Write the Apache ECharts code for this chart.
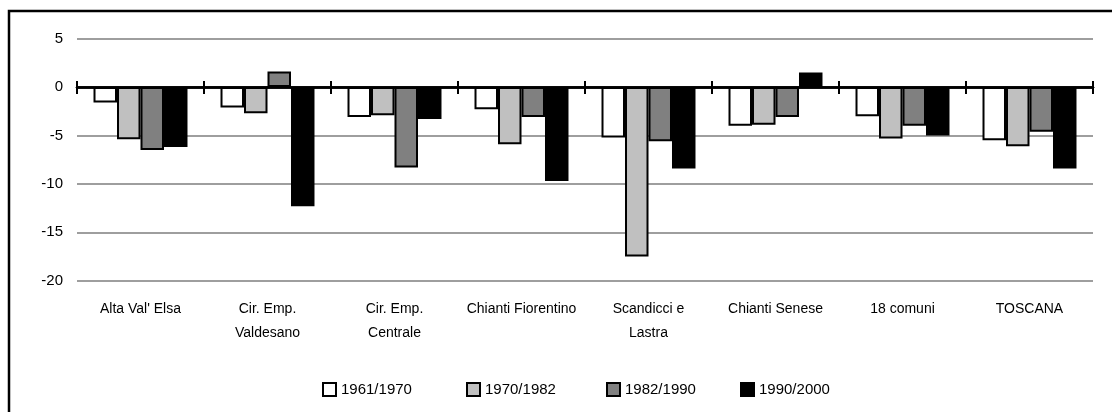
<!DOCTYPE html>
<html>
<head>
<meta charset="utf-8">
<script src="https://cdn.jsdelivr.net/npm/echarts@6/dist/echarts.min.js"></script>
<style>
  html, body { margin: 0; padding: 0; background: #fff; }
  #chart { width: 1112px; height: 412px; }
</style>
</head>
<body>
<div id="chart"></div>
<script>
const categories = ["Alta Val' Elsa", "Cir. Emp.\nValdesano", "Cir. Emp.\nCentrale", "Chianti Fiorentino", "Scandicci e\nLastra", "Chianti Senese", "18 comuni", "TOSCANA"];
const seriesNames = ["1961/1970", "1970/1982", "1982/1990", "1990/2000"];
const s1961 = [-1.6, -2.1, -3.1, -2.3, -5.2, -4.0, -3.0, -5.5];
const s1970 = [-5.4, -2.7, -2.9, -5.9, -17.5, -3.9, -5.3, -6.1];
const s1982 = [-6.5, 1.6, -8.3, -3.1, -5.6, -3.1, -4.0, -4.6];
const s1990 = [-6.2, -12.3, -3.3, -9.7, -8.4, 1.5, -5.0, -8.4];
const yTicks = { min: -20, max: 5, interval: 5 };

const FONT = "'Liberation Sans', Arial, sans-serif";
const colors = ['#ffffff', '#c0c0c0', '#808080', '#000000'];
const values = [s1961, s1970, s1982, s1990];
const legendLefts = [317, 461, 601, 735];

const chart = echarts.init(document.getElementById('chart'), null, { renderer: 'canvas' });

const gridPos = { left: 77, right: 19, top: 38.7, height: 242 };

const option = {
  animation: false,
  backgroundColor: '#ffffff',
  textStyle: { fontFamily: FONT },
  graphic: [{
    type: 'rect',
    shape: { x: 9, y: 11, width: 1300, height: 600 },
    style: { fill: 'none', stroke: '#000', lineWidth: 2.5 },
    silent: true,
    z: 100
  }],
  legend: seriesNames.map((n, i) => ({
    data: [n],
    left: legendLefts[i],
    top: 376,
    itemWidth: 13,
    itemHeight: 13,
    itemGap: 0,
    icon: 'rect',
    itemStyle: { borderColor: '#000', borderWidth: 2 },
    textStyle: { fontFamily: FONT, fontSize: 15, color: '#000', lineHeight: 17 },
    selectedMode: false
  })),
  grid: [
    Object.assign({}, gridPos),
    Object.assign({}, gridPos)
  ],
  xAxis: [
    {
      type: 'category', gridIndex: 0, data: categories, position: 'bottom',
      axisLine: { show: false, onZero: false },
      axisTick: { show: false },
      axisLabel: { show: true, margin: 16, interval: 0, fontFamily: FONT, fontSize: 14, color: '#000', lineHeight: 24, align: 'center' },
      splitLine: { show: false }
    },
    {
      type: 'category', gridIndex: 0, data: categories, position: 'top',
      axisLine: { show: true, onZero: true, onZeroAxisIndex: 0, lineStyle: { color: '#000', width: 2.5 } },
      axisTick: { show: true, length: 6, lineStyle: { color: '#000', width: 2 } },
      axisLabel: { show: false },
      splitLine: { show: false }
    },
    {
      type: 'category', gridIndex: 1, data: categories, position: 'bottom',
      axisLine: { show: true, onZero: true, lineStyle: { color: '#000', width: 2.5 } },
      axisTick: { show: true, length: 7, lineStyle: { color: '#000', width: 2 } },
      axisLabel: { show: false },
      splitLine: { show: false }
    }
  ],
  yAxis: [
    {
      type: 'value', gridIndex: 0, min: yTicks.min, max: yTicks.max, interval: yTicks.interval,
      axisLine: { show: false }, axisTick: { show: false },
      axisLabel: { margin: 14, fontFamily: FONT, fontSize: 15, color: '#000' },
      splitLine: { show: true, lineStyle: { color: '#9e9e9e', width: 2 } }
    },
    {
      type: 'value', gridIndex: 1, min: yTicks.min, max: yTicks.max, interval: yTicks.interval,
      show: false, splitLine: { show: false }
    }
  ],
  series: seriesNames.map((n, i) => ({
    name: n,
    type: 'bar',
    xAxisIndex: 0,
    yAxisIndex: 0,
    data: values[i],
    barGap: '0%',
    barCategoryGap: '26%',
    itemStyle: { color: colors[i], borderColor: '#000', borderWidth: 2 },
    z: 1
  }))
};

chart.setOption(option);
</script>
</body>
</html>
